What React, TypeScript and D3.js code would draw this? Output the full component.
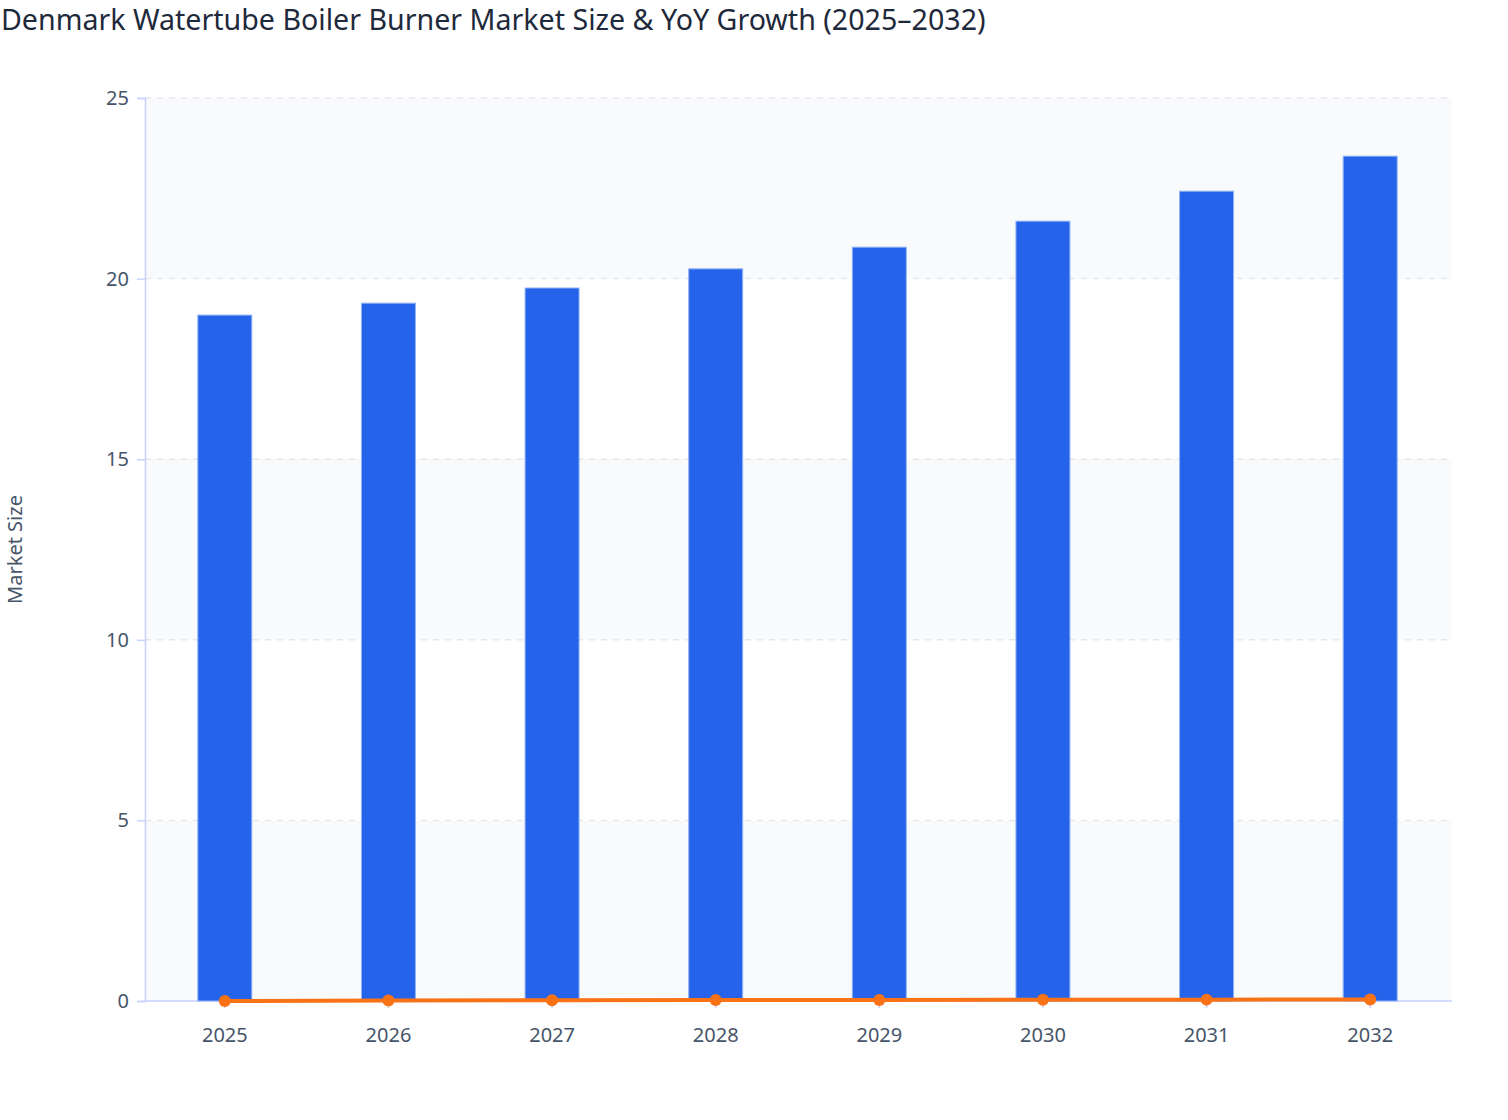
import * as d3 from "d3";
import { useEffect, useRef } from "react";

const years = ["2025", "2026", "2027", "2028", "2029", "2030", "2031", "2032"];
const marketSize = [18.99, 19.32, 19.74, 20.27, 20.87, 21.59, 22.42, 23.39];
const yoyGrowth = [0, 0.017, 0.022, 0.027, 0.029, 0.035, 0.038, 0.043];
const yTicks = [0, 5, 10, 15, 20, 25];

const W = 1508;
const H = 1120;
const margin = { top: 98, right: 56, bottom: 119, left: 145 };
const font = "'Noto Sans', 'Open Sans', sans-serif";

export default function App() {
  const ref = useRef<SVGSVGElement>(null);

  useEffect(() => {
    document.body.style.margin = "0";
    const svg = d3.select(ref.current);
    svg.selectAll("*").remove();

    const x = d3
      .scaleBand()
      .domain(years)
      .range([143, W - margin.right])
      .paddingInner(0.67)
      .paddingOuter(0.335);
    const y = d3
      .scaleLinear()
      .domain([0, 25])
      .range([H - margin.bottom, margin.top]);

    // alternating bands
    const bands = d3.range(0, 25, 5).filter((_, i) => i % 2 === 0);
    svg
      .append("g")
      .selectAll("rect")
      .data(bands)
      .enter()
      .append("rect")
      .attr("x", margin.left)
      .attr("width", W - margin.right - margin.left)
      .attr("y", (d) => y(d + 5))
      .attr("height", (d) => y(d) - y(d + 5))
      .attr("fill", "#f8fafc");

    // grid lines
    svg
      .append("g")
      .selectAll("line")
      .data(yTicks.filter((t) => t > 0))
      .enter()
      .append("line")
      .attr("x1", margin.left)
      .attr("x2", W - margin.right)
      .attr("y1", (d) => y(d))
      .attr("y2", (d) => y(d))
      .attr("stroke", "#e5e7eb")
      .attr("stroke-width", 1.5)
      .attr("stroke-dasharray", "6,6");

    // y axis
    const yAxis = svg
      .append("g")
      .attr("transform", `translate(${margin.left},0)`)
      .call(d3.axisLeft(y).tickValues(yTicks).tickSize(8).tickPadding(8));
    yAxis.select(".domain").attr("stroke", "#c7d2fe").attr("stroke-width", 1.5);
    yAxis.selectAll(".tick line").attr("stroke", "#c7d2fe").attr("stroke-width", 1.5);
    yAxis
      .selectAll(".tick text")
      .attr("fill", "#475569")
      .style("font", `20px ${font}`);

    // x axis
    const xAxis = svg
      .append("g")
      .attr("transform", `translate(0,${H - margin.bottom})`)
      .call(d3.axisBottom(x).tickSize(7).tickPadding(20).tickSizeOuter(0));
    xAxis.select(".domain").attr("stroke", "#c7d2fe").attr("stroke-width", 1.5).attr("d", `M${margin.left},0H${W - margin.right}`);
    xAxis.selectAll(".tick line").attr("stroke", "#c7d2fe").attr("stroke-width", 1.5);
    xAxis
      .selectAll(".tick text")
      .attr("fill", "#475569")
      .style("font", `20px ${font}`);

    // bars
    svg
      .append("g")
      .selectAll("rect")
      .data(marketSize)
      .enter()
      .append("rect")
      .attr("x", (_, i) => x(years[i])!)
      .attr("width", x.bandwidth())
      .attr("y", (d) => y(d))
      .attr("height", (d) => y(0) - y(d))
      .attr("fill", "#2563eb")
      .attr("stroke", "#93b4f5")
      .attr("stroke-width", 1);

    // yoy line
    const cx = (i: number) => x(years[i])! + x.bandwidth() / 2;
    const line = d3
      .line<number>()
      .x((_, i) => cx(i))
      .y((d) => y(d));
    svg
      .append("path")
      .datum(yoyGrowth)
      .attr("d", line)
      .attr("fill", "none")
      .attr("stroke", "#f97316")
      .attr("stroke-width", 4);
    svg
      .append("g")
      .selectAll("circle")
      .data(yoyGrowth)
      .enter()
      .append("circle")
      .attr("cx", (_, i) => cx(i))
      .attr("cy", (d) => y(d))
      .attr("r", 6)
      .attr("fill", "#f97316");

    // titles
    svg
      .append("text")
      .attr("x", 1)
      .attr("y", 30)
      .attr("fill", "#1e293b")
      .style("font", `28.6px ${font}`)
      .text("Denmark Watertube Boiler Burner Market Size & YoY Growth (2025–2032)");

    svg
      .append("text")
      .attr("transform", `translate(22,${(y(0) + y(25)) / 2}) rotate(-90)`)
      .attr("text-anchor", "middle")
      .attr("fill", "#475569")
      .style("font", `20px ${font}`)
      .text("Market Size");
  }, []);

  return <svg ref={ref} width={W} height={H} style={{ display: "block", background: "#fff" }} />;
}
